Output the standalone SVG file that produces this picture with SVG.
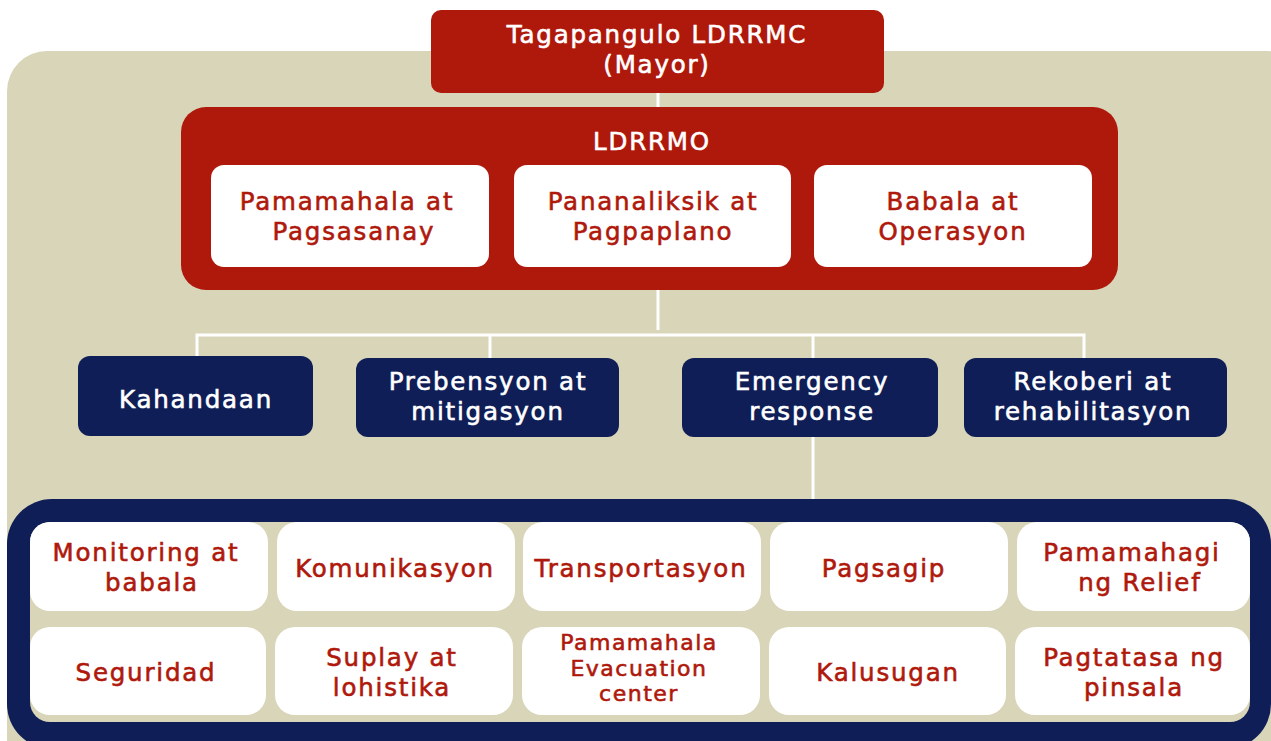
<svg xmlns="http://www.w3.org/2000/svg" width="1271" height="741" viewBox="0 0 1271 741">
<style>
text{font-family:"DejaVu Sans","Liberation Sans",sans-serif;font-size:24.5px;text-anchor:middle;letter-spacing:1.8px;stroke-width:0.6px}
.w{fill:#ffffff;stroke:#ffffff}
.r{fill:#AF190C;stroke:#AF190C}
.red{fill:#AF190C}
.navy{fill:#0F1E57}
.cell{fill:#ffffff}
.sm{font-size:22px;letter-spacing:1.5px}
.conn{stroke:#ffffff;stroke-width:3;fill:none}
</style>
<rect x="7" y="51" width="1300" height="740" rx="40" fill="#D9D5B9"/>
<g id="connectors">
<line class="conn" x1="658" y1="93" x2="658" y2="108"/>
<line class="conn" x1="658" y1="289" x2="658" y2="330"/>
<polyline class="conn" points="197,357 197,335 1084,335 1084,358"/>
<line class="conn" x1="490" y1="335" x2="490" y2="358"/>
<line class="conn" x1="813" y1="335" x2="813" y2="358"/>
<line class="conn" x1="813" y1="436" x2="813" y2="500"/>
</g>
<g id="mayor">
<rect class="red" x="431" y="10" width="453" height="83" rx="10"/>
<text class="w" x="657" y="43">Tagapangulo LDRRMC</text>
<text class="w" x="657" y="73">(Mayor)</text>
</g>
<g id="ldrrmo">
<rect class="red" x="181" y="107" width="937" height="183" rx="25"/>
<text class="w" x="652" y="150">LDRRMO</text>
</g>
<g id="pamamahala">
<rect class="cell" x="211" y="165" width="278" height="102" rx="13"/>
<text class="r" x="347" y="210">Pamamahala at</text>
<text class="r" x="354" y="240">Pagsasanay</text>
</g>
<g id="pananaliksik">
<rect class="cell" x="514" y="165" width="277" height="102" rx="13"/>
<text class="r" x="653" y="210">Pananaliksik at</text>
<text class="r" x="653" y="240">Pagpaplano</text>
</g>
<g id="babala">
<rect class="cell" x="814" y="165" width="278" height="102" rx="13"/>
<text class="r" x="953" y="210">Babala at</text>
<text class="r" x="953" y="240">Operasyon</text>
</g>
<g id="kahandaan">
<rect class="navy" x="78" y="356" width="235" height="80" rx="12"/>
<text class="w" x="196" y="408">Kahandaan</text>
</g>
<g id="prebensyon">
<rect class="navy" x="356" y="358" width="263" height="79" rx="12"/>
<text class="w" x="488" y="390">Prebensyon at</text>
<text class="w" x="488" y="420">mitigasyon</text>
</g>
<g id="emergency">
<rect class="navy" x="682" y="358" width="256" height="79" rx="12"/>
<text class="w" x="812" y="390">Emergency</text>
<text class="w" x="812" y="420">response</text>
</g>
<g id="rekoberi">
<rect class="navy" x="964" y="358" width="263" height="79" rx="12"/>
<text class="w" x="1093" y="390">Rekoberi at</text>
<text class="w" x="1093" y="420">rehabilitasyon</text>
</g>
<g id="emergency-functions">
<rect class="navy" x="7" y="499" width="1264" height="250" rx="45"/>
<rect x="30" y="522" width="1220" height="200" rx="20" fill="#D9D5B9"/>
</g>
<g id="monitoring">
<rect class="cell" x="30" y="522" width="238" height="89" rx="20"/>
<text class="r" x="146" y="561">Monitoring at</text>
<text class="r" x="152" y="591">babala</text>
</g>
<g id="komunikasyon">
<rect class="cell" x="277" y="522" width="238" height="89" rx="20"/>
<text class="r" x="395" y="577">Komunikasyon</text>
</g>
<g id="transportasyon">
<rect class="cell" x="523" y="522" width="238" height="89" rx="20"/>
<text class="r" x="641" y="577">Transportasyon</text>
</g>
<g id="pagsagip">
<rect class="cell" x="770" y="522" width="238" height="89" rx="20"/>
<text class="r" x="884" y="577">Pagsagip</text>
</g>
<g id="relief">
<rect class="cell" x="1017" y="522" width="233" height="89" rx="20"/>
<text class="r" x="1132" y="561">Pamamahagi</text>
<text class="r" x="1140" y="591">ng Relief</text>
</g>
<g id="seguridad">
<rect class="cell" x="30" y="627" width="236" height="88" rx="20"/>
<text class="r" x="146" y="681">Seguridad</text>
</g>
<g id="suplay">
<rect class="cell" x="275" y="627" width="238" height="88" rx="20"/>
<text class="r" x="392" y="666">Suplay at</text>
<text class="r" x="392" y="696">lohistika</text>
</g>
<g id="evacuation">
<rect class="cell" x="522" y="627" width="238" height="88" rx="20"/>
<text class="r sm" x="639" y="650">Pamamahala</text>
<text class="r sm" x="639" y="676">Evacuation</text>
<text class="r sm" x="639" y="701">center</text>
</g>
<g id="kalusugan">
<rect class="cell" x="769" y="627" width="237" height="88" rx="20"/>
<text class="r" x="888" y="681">Kalusugan</text>
</g>
<g id="pagtatasa">
<rect class="cell" x="1015" y="627" width="235" height="88" rx="20"/>
<text class="r" x="1134" y="666">Pagtatasa ng</text>
<text class="r" x="1134" y="696">pinsala</text>
</g>
</svg>
